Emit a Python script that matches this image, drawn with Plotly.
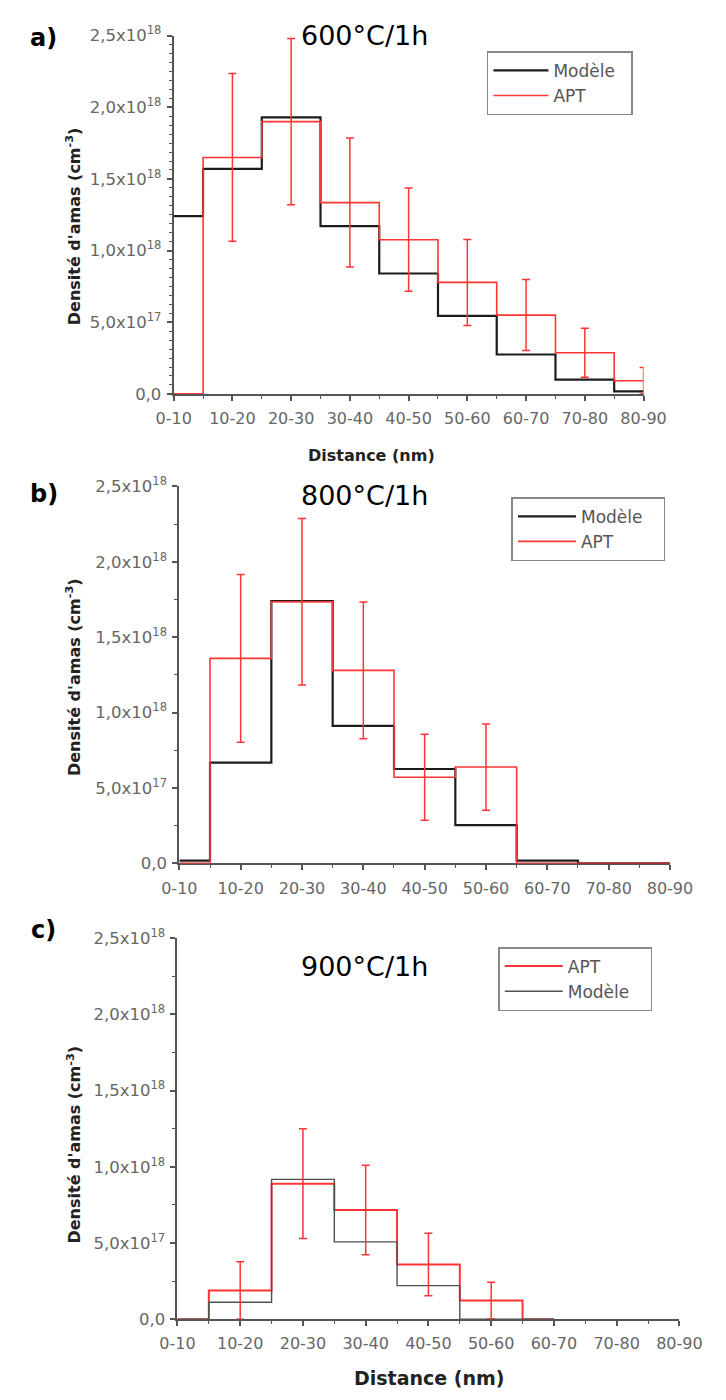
import plotly.graph_objects as go

W, H = 726, 1400

categories = ["0-10", "10-20", "20-30", "30-40", "40-50", "50-60", "60-70", "70-80", "80-90"]

# Panel a) 600°C/1h
a_modele = [1.24e18, 1.57e18, 1.93e18, 1.17e18, 0.84e18, 0.545e18, 0.275e18, 0.10e18, 0.018e18]
a_apt = [0.0, 1.65e18, 1.90e18, 1.335e18, 1.076e18, 0.778e18, 0.55e18, 0.287e18, 0.092e18]
a_apt_err = [0.0, 0.585e18, 0.58e18, 0.45e18, 0.36e18, 0.30e18, 0.248e18, 0.171e18, 0.093e18]

# Panel b) 800°C/1h
b_modele = [0.018e18, 0.669e18, 1.74e18, 0.912e18, 0.626e18, 0.254e18, 0.018e18, 0.0, 0.0]
b_apt = [0.0, 1.36e18, 1.735e18, 1.28e18, 0.571e18, 0.639e18, 0.0, 0.0, 0.0]
b_apt_err = [0.0, 0.556e18, 0.552e18, 0.453e18, 0.285e18, 0.286e18, 0.0, 0.0, 0.0]

# Panel c) 900°C/1h (no data drawn beyond 60-70)
c_apt = [0.0, 0.188e18, 0.889e18, 0.716e18, 0.358e18, 0.122e18, 0.0, None, None]
c_apt_err = [0.0, 0.188e18, 0.36e18, 0.294e18, 0.205e18, 0.12e18, 0.0, 0.0, 0.0]
c_modele = [0.0, 0.111e18, 0.917e18, 0.507e18, 0.220e18, 0.0, 0.0, None, None]

y_tickvals = [0.0, 0.5e18, 1.0e18, 1.5e18, 2.0e18, 2.5e18]
y_ticktext = ["0,0", "5,0x10<sup>17</sup>", "1,0x10<sup>18</sup>", "1,5x10<sup>18</sup>",
              "2,0x10<sup>18</sup>", "2,5x10<sup>18</sup>"]

panel_titles = ["600°C/1h", "800°C/1h", "900°C/1h"]
panel_letters = ["a)", "b)", "c)"]
name_modele = "Modèle"
name_apt = "APT"

FONT = "DejaVu Sans"
RED = "#ff3434"
BLACK = "#1c1c1c"
GREY = "#555555"
NBSP = "\u00a0"

def px(x):
    return x / W

def py(y):
    return 1 - y / H

fig = go.Figure()
xs = list(range(len(categories)))

def add_panel(n, series, err, apt, pad):
    xa = "x" if n == 1 else f"x{n}"
    ya = "y" if n == 1 else f"y{n}"
    lg = "legend" if n == 1 else f"legend{n}"
    for name, vals, color, width in series:
        fig.add_trace(go.Scatter(x=xs, y=vals, mode="lines", name=name + NBSP * pad,
                                 line=dict(color=color, width=width, shape="hvh"),
                                 connectgaps=False,
                                 xaxis=xa, yaxis=ya, legend=lg, hoverinfo="skip"))
    idx = [i for i, e in enumerate(err) if e > 0]
    fig.add_trace(go.Scatter(x=idx, y=[apt[i] for i in idx], mode="markers",
                             marker=dict(size=1, color="rgba(0,0,0,0)"),
                             error_y=dict(type="data", array=[err[i] for i in idx],
                                          color=RED, thickness=1.5, width=4),
                             xaxis=xa, yaxis=ya, showlegend=False, hoverinfo="skip"))

add_panel(1, [(name_modele, a_modele, BLACK, 2.2), (name_apt, a_apt, RED, 1.6)], a_apt_err, a_apt, 2)
add_panel(2, [(name_modele, b_modele, BLACK, 2.2), (name_apt, b_apt, RED, 1.6)], b_apt_err, b_apt, 3)
# panel c: APT first in legend, grey model line drawn on top so zero-level segments hide on the axis
add_panel(3, [(name_apt, c_apt, RED, 2.0), (name_modele, c_modele, "#505050", 1.4)], c_apt_err, c_apt, 3)

# geometry (pixels)
panels = [
    dict(x0=165, x1=663, y0=24, y1=388, minor=0.0625e18, layer="below traces"),
    dict(x0=171, x1=691, y0=482, y1=865, minor=0.25e18, layer="below traces"),
    dict(x0=169, x1=701, y0=941, y1=1328, minor=0.25e18, layer="above traces"),
]

layout = dict(width=W, height=H, margin=dict(l=0, r=0, t=0, b=0), autosize=False,
              paper_bgcolor="white", plot_bgcolor="white",
              font=dict(family=FONT, color="#555"))

for i, p in enumerate(panels):
    n = i + 1
    xk = "xaxis" if n == 1 else f"xaxis{n}"
    yk = "yaxis" if n == 1 else f"yaxis{n}"
    layout[xk] = dict(domain=[px(p["x0"]), px(p["x1"])], range=[0, len(categories) - 1],
                      anchor="y" if n == 1 else f"y{n}",
                      tickmode="array", tickvals=xs, ticktext=categories,
                      ticks="outside", ticklen=5, tickwidth=1.5, tickcolor=GREY,
                      showline=True, linecolor=GREY, linewidth=2,
                      showgrid=False, zeroline=False, layer=p["layer"],
                      ticklabelstandoff=4,
                      tickfont=dict(family=FONT, size=16, color="#666"),
                      minor=dict(dtick=0.5, tick0=0, ticks="outside", ticklen=3,
                                 tickwidth=1.2, tickcolor=GREY, showgrid=False))
    layout[yk] = dict(domain=[py(p["y1"]), py(p["y0"])], range=[0, 2.5e18],
                      anchor="x" if n == 1 else f"x{n}",
                      tickmode="array", tickvals=y_tickvals, ticktext=y_ticktext,
                      ticks="outside", ticklen=5, tickwidth=1.5, tickcolor=GREY,
                      showline=True, linecolor=GREY, linewidth=2,
                      showgrid=False, zeroline=False, layer=p["layer"],
                      ticklabelstandoff=2,
                      tickfont=dict(family=FONT, size=16.5, color="#666"),
                      minor=dict(dtick=p["minor"], tick0=0, ticks="outside", ticklen=3,
                                 tickwidth=1.2, tickcolor=GREY, showgrid=False))

legend_pos = [(497, 40, 55), (523, 493, 58), (509, 950, 58)]
for i, (lx, ly, iw) in enumerate(legend_pos):
    key = "legend" if i == 0 else f"legend{i + 1}"
    layout[key] = dict(x=px(lx), y=py(ly), xanchor="left", yanchor="top",
                       bgcolor="white", bordercolor="#888", borderwidth=1.5,
                       font=dict(family=FONT, size=17, color="#555"),
                       itemwidth=iw, traceorder="normal")

annotations = []
title_pos = [(367, 24), (367, 491), (367, 970)]
letter_pos = [(27, 26), (28, 490), (27, 933)]
for t, (tx, ty) in zip(panel_titles, title_pos):
    annotations.append(dict(text=t, x=px(tx), y=py(ty), xref="paper", yref="paper",
                            showarrow=False, xanchor="center", yanchor="middle",
                            font=dict(family=FONT, size=27, color="black")))
for t, (tx, ty) in zip(panel_letters, letter_pos):
    annotations.append(dict(text=f"<b>{t}</b>", x=px(tx), y=py(ty), xref="paper", yref="paper",
                            showarrow=False, xanchor="center", yanchor="middle",
                            font=dict(family=FONT, size=24, color="black")))
ytitle_pos = [(59, 218), (59, 676), (60, 1151)]
for (tx, ty) in ytitle_pos:
    annotations.append(dict(text="<b>Densité d'amas (cm<sup>-3</sup>)</b>", x=px(tx), y=py(ty),
                            xref="paper", yref="paper", showarrow=False, textangle=-90,
                            xanchor="center", yanchor="middle",
                            font=dict(family=FONT, size=16, color="#222")))
annotations.append(dict(text="<b>Distance (nm)</b>", x=px(375), y=py(451), xref="paper", yref="paper",
                        showarrow=False, xanchor="center", yanchor="middle",
                        font=dict(family=FONT, size=16, color="#222")))
annotations.append(dict(text="<b>Distance (nm)</b>", x=px(436), y=py(1388), xref="paper", yref="paper",
                        showarrow=False, xanchor="center", yanchor="middle",
                        font=dict(family=FONT, size=19, color="#222")))
layout["annotations"] = annotations

fig.update_layout(**layout)
fig.write_html("out.html", config={"displayModeBar": False},
               post_script="document.body.style.margin='0';")
